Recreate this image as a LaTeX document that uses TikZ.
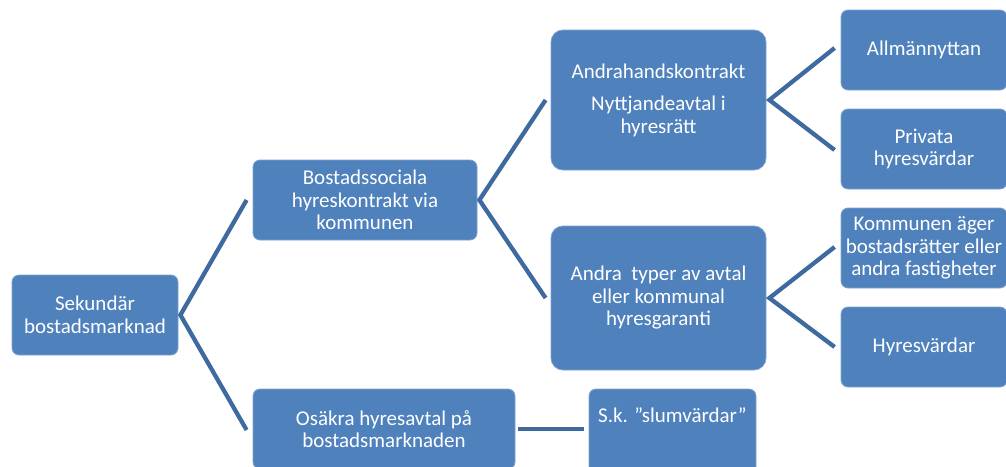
\documentclass[tikz,border=0pt]{standalone}
\usepackage{fontspec}
\setmainfont{Carlito}
\definecolor{boxfill}{HTML}{4F81BD}
\definecolor{boxedge}{HTML}{7FA2CE}
\definecolor{conn}{HTML}{3F6AA0}
\begin{document}
\begin{tikzpicture}[x=1pt,y=-1pt,
  box/.style={draw=boxedge, line width=0.8pt, fill=boxfill, rounded corners=#1,
    text=white, align=center, inner sep=0pt, font=\fontsize{21}{22.5}\selectfont},
  box/.default=7pt,
  txt/.style={text=white, align=center, inner sep=0pt, font=\fontsize{21}{22.5}\selectfont},
  conn/.style={draw=conn, line width=4.3pt, line join=miter}]
\useasboundingbox (0,0) rectangle (1006,466);
\clip (0,0) rectangle (1006,466);
% boxes
\node[box, minimum width=166, minimum height=80] (sek) at (95,315) {Sekundär\\bostadsmarknad};
\node[box, minimum width=224, minimum height=80] (bost) at (365,200) {Bostadssociala\\hyreskontrakt via\\kommunen};
\node[box, minimum width=262, minimum height=80] (osak) at (384,429) {Osäkra hyresavtal på\\bostadsmarknaden};
\node[box=12pt, minimum width=215, minimum height=140] (andra1) at (658.5,100) {Andrahandskontrakt\\[10pt]Nyttjandeavtal i\\hyresrätt};
\node[box=12pt, minimum width=215, minimum height=144] (andra2) at (658.5,298) {Andra\ \ typer av avtal\\eller kommunal\\hyresgaranti};
\node[box, minimum width=167, minimum height=100] (slum) at (672.5,439) {};
\node[txt, anchor=north] (slumtxt) at ([yshift=-19]slum.north) {S.k. ”slumvärdar”};
\node[box, minimum width=166, minimum height=80] (allm) at (924,50) {Allmännyttan};
\node[box, minimum width=166, minimum height=80] (priv) at (924,149) {Privata\\hyresvärdar};
\node[box, minimum width=166, minimum height=80] (komm) at (924,248) {Kommunen äger\\bostadsrätter eller\\andra fastigheter};
\node[box, minimum width=166, minimum height=80] (hyres) at (924,347) {Hyresvärdar};
% connectors
\draw[conn] ([xshift=-6]bost.west) -- ([xshift=2]sek.east) -- ([xshift=-6,yshift=-1]osak.west);
\draw[conn] ([xshift=-5]andra1.west) -- ([xshift=2]bost.east) -- ([xshift=-5]andra2.west);
\draw[conn] ([xshift=-6,yshift=2]allm.west) -- ([xshift=3]andra1.east) -- ([xshift=-6,yshift=-1]priv.west);
\draw[conn] ([xshift=-6,yshift=1]komm.west) -- ([xshift=3]andra2.east) -- ([xshift=-6]hyres.west);
\draw[conn] ([xshift=3]osak.east) -- ([xshift=-5]slum.west |- osak.east);
\end{tikzpicture}
\end{document}
